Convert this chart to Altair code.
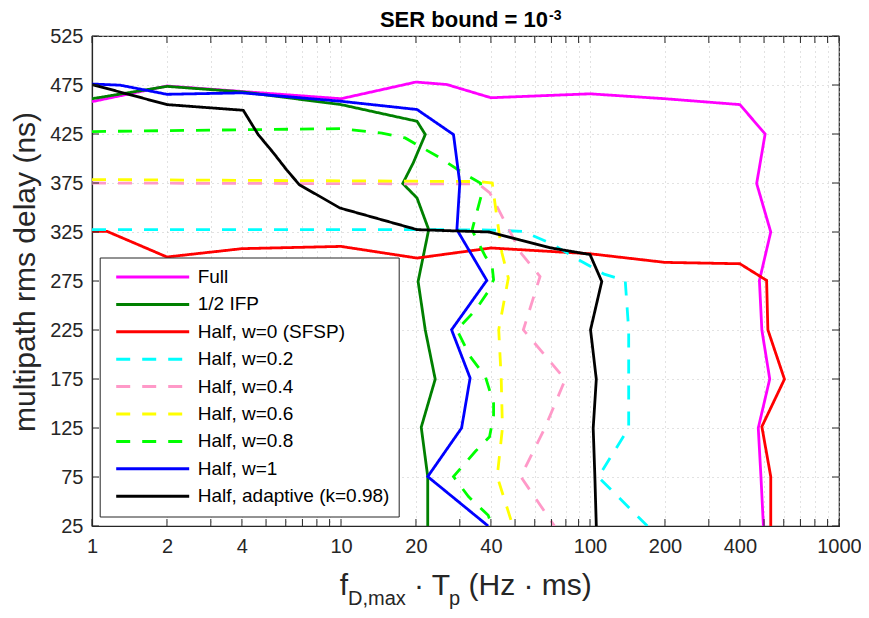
import altair as alt
import pandas as pd

# ---------------- data ----------------
series_names = ["Full", "1/2 IFP", "Half, w=0 (SFSP)", "Half, w=0.2", "Half, w=0.4",
                "Half, w=0.6", "Half, w=0.8", "Half, w=1", "Half, adaptive (k=0.98)"]
series_colors = ["#ff00ff", "#008000", "#ff0000", "#00ffff", "#ff99c8",
                 "#ffff00", "#00ff00", "#0000ff", "#000000"]
series_dash = [[1, 0], [1, 0], [1, 0], [14, 12], [14, 12], [14, 12], [14, 12], [1, 0], [1, 0]]

full_x = [1, 2, 10, 20, 26.6, 40, 100, 200, 400, 505, 467, 532, 479, 490, 527, 474, 486, 497]
full_y = [458, 474, 461, 478, 475.5, 462, 466, 461, 455, 425, 374.5, 325, 275.5, 225, 175, 125, 75, 25]

ifp_x = [1, 2, 4, 10, 20.2, 21.8, 19.5, 17.7, 20.2, 22.5, 20.4, 21.8, 23.9, 21, 22.3, 22.3]
ifp_y = [461, 473.6, 468, 455, 438, 424.5, 395.5, 374.5, 359.7, 327.4, 274.5, 225, 174.8, 125.8, 75.4, 25]

w0_x = [1, 1.15, 2, 4, 10, 20.2, 40, 100, 200, 400, 512, 518, 604, 490, 532, 532]
w0_y = [325.6, 325.6, 299.5, 308, 310.3, 298.4, 308.7, 302.8, 294, 292.6, 275.6, 225.2, 174.8, 126.4, 75.4, 25]

w02_x = [1, 20, 40, 54, 70, 91, 114, 138.5, 143, 143, 108, 170]
w02_y = [327.5, 327.5, 327, 325.6, 313, 296, 282, 275.6, 225, 125, 75, 25]

w04_x = [1, 35.7, 39.6, 53, 63, 54, 79.5, 66, 52.7, 72]
w04_y = [375, 374, 365, 303, 279.6, 225.2, 174.5, 125.5, 75.4, 25]

w06_x = [1, 35.7, 40.5, 42, 44.3, 47, 43, 44, 44.5, 42.4, 49]
w06_y = [378.5, 376.5, 375, 345, 303.5, 278, 225.2, 175, 125, 75.4, 25]

w08_x = [1, 10, 14.6, 18.1, 25, 31, 36.3, 36.8, 33.6, 38, 40.4, 41, 39, 34.6, 29.2, 33, 38,
         41, 41, 39.5, 34.6, 28.3, 32.5, 39, 40.5]
w08_y = [427.5, 430.5, 426, 421, 400.6, 385, 375, 364.6, 327, 300, 291.6, 276.3, 264.3, 245, 225.2,
         198, 177.5, 150, 138, 116, 101, 75.4, 55, 36, 25]

w1_x = [1, 1.3, 2, 4, 10, 20.2, 28.3, 30, 29.2, 38.5, 27.8, 33, 30.5, 22.3, 39]
w1_y = [476, 474.8, 465.5, 467, 458.4, 450, 424.4, 375, 327.4, 275.6, 225.2, 176, 125, 75.4, 25]

adp_x = [1, 2, 4.05, 4.65, 5.35, 6.05, 6.8, 9.9, 20.2, 39.3, 70, 100, 111.5, 100.5, 106, 103, 104.6, 106]
adp_y = [475.5, 455, 449.2, 424.4, 405.8, 388.4, 373.3, 349.5, 327.4, 325, 308.7, 302, 274.5, 225.2,
         174.8, 124.8, 75.4, 25]

all_x = [full_x, ifp_x, w0_x, w02_x, w04_x, w06_x, w08_x, w1_x, adp_x]
all_y = [full_y, ifp_y, w0_y, w02_y, w04_y, w06_y, w08_y, w1_y, adp_y]

x_tick_values = [1, 2, 3, 4, 5, 6, 7, 8, 9, 10, 20, 30, 40, 50, 60, 70, 80, 90,
                 100, 200, 300, 400, 500, 600, 700, 800, 900, 1000]
x_tick_labels = [1, 2, 4, 10, 20, 40, 100, 200, 400, 1000]
y_tick_values = [25, 75, 125, 175, 225, 275, 325, 375, 425, 475, 525]

rows = []
for name, xs, ys in zip(series_names, all_x, all_y):
    for i, (xv, yv) in enumerate(zip(xs, ys)):
        rows.append({"series": name, "idx": i, "x": xv, "y": yv})
df = pd.DataFrame(rows)

# ---------------- layout ----------------
W, H = 747, 490
FONT = "Liberation Sans"
xscale = alt.Scale(type="log", domain=[1, 1000], nice=False)
yscale = alt.Scale(domain=[25, 525], nice=False, zero=False)

lbl_expr = "indexof(" + str(x_tick_labels) + ", datum.value) >= 0 ? datum.label : ''"
x_axis = alt.Axis(values=x_tick_values, format="d", labelExpr=lbl_expr, title=None,
                  labelFlush=False, labelOverlap=False, ticks=False, labelPadding=10)
y_axis = alt.Axis(values=y_tick_values, format="d", title=None, ticks=False,
                  labelPadding=9, labelOverlap=False, labelFlush=False)

legend = alt.Legend(orient="none", legendX=7.7, legendY=221.5, title=None,
                    fillColor="white", strokeColor="#262626", padding=9,
                    symbolType="stroke", symbolSize=5329, symbolStrokeWidth=3,
                    clipHeight=21, rowPadding=6.4, labelFontSize=19, labelFont=FONT,
                    labelColor="black", labelOffset=7, symbolOffset=6, labelLimit=400)

lines = alt.Chart(df).mark_line(strokeWidth=2.8, clip=True).encode(
    x=alt.X("x:Q", scale=xscale, axis=x_axis),
    y=alt.Y("y:Q", scale=yscale, axis=y_axis),
    color=alt.Color("series:N", scale=alt.Scale(domain=series_names, range=series_colors),
                    sort=series_names, legend=legend),
    strokeDash=alt.StrokeDash("series:N", scale=alt.Scale(domain=series_names, range=series_dash),
                              sort=series_names, legend=legend),
    order="idx:Q",
)

xt = pd.DataFrame({"x": x_tick_values})
yt = pd.DataFrame({"y": y_tick_values})
TK = 7
tick_col = "#262626"
xt_bot = alt.Chart(xt).mark_rule(color=tick_col, strokeWidth=1).encode(
    x=alt.X("x:Q", scale=xscale, axis=x_axis), y=alt.value(H), y2=alt.value(H - TK))
xt_top = alt.Chart(xt).mark_rule(color=tick_col, strokeWidth=1).encode(
    x=alt.X("x:Q", scale=xscale, axis=x_axis), y=alt.value(0), y2=alt.value(TK))
yt_left = alt.Chart(yt).mark_rule(color=tick_col, strokeWidth=1).encode(
    y=alt.Y("y:Q", scale=yscale, axis=y_axis), x=alt.value(0), x2=alt.value(TK))
yt_right = alt.Chart(yt).mark_rule(color=tick_col, strokeWidth=1).encode(
    y=alt.Y("y:Q", scale=yscale, axis=y_axis), x=alt.value(W), x2=alt.value(W - TK))

one = pd.DataFrame({"a": [0]})

def txt(s, x, y, size, weight="normal", align="left", angle=0, color="black"):
    kw = dict(text=s, align=align, baseline="alphabetic", fontSize=size, font=FONT,
              fontWeight=weight, color=color)
    if angle:
        kw["angle"] = angle
    return alt.Chart(one).mark_text(**kw).encode(x=alt.value(x), y=alt.value(y))

# title  "SER bound = 10^-3"
t1 = txt("SER bound = 10", 456, -9, 22, weight="bold", align="right")
t2 = txt("-3", 457, -16, 14, weight="bold")
# x title  f_{D,max} · T_p (Hz · ms)
MB, SB = 558.5, 569
X0 = 247.7
x1 = txt("f", X0, MB, 30, color="#262626")
x2 = txt("D,max", X0 + 8.3, SB, 20, color="#262626")
x3 = txt("·  T", X0 + 74.3, MB, 30, color="#262626")
x4 = txt("p", X0 + 109.3, SB, 20, color="#262626")
x5 = txt("(Hz · ms)", X0 + 128.8, MB, 30, color="#262626")
# y title
y1 = txt("multipath rms delay (ns)", -57.5, 236, 30, align="center", angle=270, color="#262626")

chart = alt.layer(lines, xt_bot, xt_top, yt_left, yt_right, t1, t2, x1, x2, x3, x4, x5, y1).properties(
    width=W, height=H,
    autosize=alt.AutoSizeParams(type="none"),
    padding={"left": 84, "top": 28, "right": 22, "bottom": 84},
).configure_view(
    stroke="#262626", strokeWidth=1.2
).configure_axis(
    labelFont=FONT, labelFontSize=20, labelColor="#262626",
    domainColor="#262626", domainWidth=1.2,
    grid=True, gridColor="#c4c4c4", gridDash=[1, 4], gridWidth=1,
)

chart.save("out.html", embed_options={"renderer": "svg", "actions": False})
